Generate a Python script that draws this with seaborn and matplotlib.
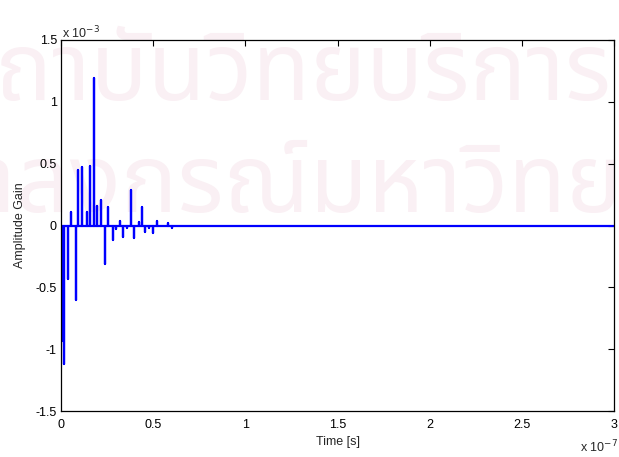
import numpy as np
import pandas as pd
import matplotlib
matplotlib.use("Agg")
import matplotlib.pyplot as plt
import seaborn as sns

# Impulse response taps: arrival time (x 1e-7 s) and amplitude (x 1e-3)
tap_time = [0.004, 0.015, 0.036, 0.053, 0.079, 0.094, 0.116, 0.139, 0.157, 0.179,
            0.195, 0.217, 0.239, 0.257, 0.281, 0.298, 0.319, 0.339, 0.358, 0.378,
            0.398, 0.422, 0.438, 0.457, 0.479, 0.501, 0.519, 0.581, 0.602, 0.682]
tap_gain = [-0.93, -1.12, -0.43, 0.11, -0.60, 0.45, 0.47, 0.11, 0.48, 1.19,
            0.16, 0.21, -0.31, 0.15, -0.12, -0.03, 0.04, -0.09, -0.02, 0.29,
            -0.10, 0.03, 0.15, -0.05, -0.02, -0.06, 0.04, 0.02, -0.02, -0.005]
t_end = 3.0
x_ticks = [0, 0.5, 1, 1.5, 2, 2.5, 3]
x_labels = ["0", "0.5", "1", "1.5", "2", "2.5", "3"]
y_ticks = [-1.5, -1, -0.5, 0, 0.5, 1, 1.5]
y_labels = ["-1.5", "-1", "-0.5", "0", "0.5", "1", "1.5"]
stamp_lines = ["สถาบันวิทยบริการ", "จุฬาลงกรณ์มหาวิทยาลัย"]

# Trace: zero baseline with a vertical excursion at each tap
xs, ys = [0.0], [0.0]
for t, g in zip(tap_time, tap_gain):
    xs += [t, t, t]
    ys += [0.0, g, 0.0]
xs.append(t_end)
ys.append(0.0)
df = pd.DataFrame({"Time": np.array(xs) * 1e-7, "Gain": np.array(ys) * 1e-3})

sns.set_theme(style="white")
plt.rcParams["font.family"] = ["Liberation Sans", "DejaVu Sans"]

W, H = 619, 457
fig = plt.figure(figsize=(W / 100, H / 100), dpi=100)
ax = fig.add_axes([61 / W, 46 / H, 553 / W, 371 / H])
ax.set_facecolor("none")

# Faint background stamp, sized so the visible run of the first line spans the page
stamp_fam = ["Noto Sans Thai", "Noto Sans", "DejaVu Sans"]
renderer = fig.canvas.get_renderer()


def text_width(s, size):
    t = fig.text(0, 0, s, fontsize=size, family=stamp_fam)
    w = t.get_window_extent(renderer).width
    t.remove()
    return w


base = 60.0
scale = 615.0 / text_width(stamp_lines[0][1:], base)
size = base * scale
lead1 = text_width(stamp_lines[0][:1], size)
lead2 = text_width(stamp_lines[1][:4], size)
stamp_kw = dict(color="#faf0f4", zorder=-1, family=stamp_fam, fontsize=size,
                ha="left", va="baseline")
fig.text((-4 - lead1) / W, 1 - 100 / H, stamp_lines[0], **stamp_kw)
fig.text((16 - lead2) / W, 1 - 212 / H, stamp_lines[1], **stamp_kw)

sns.lineplot(data=df, x="Time", y="Gain", sort=False, estimator=None,
             color="#0000ff", linewidth=1.6, ax=ax)

ax.set_xlim(0, 3e-7)
ax.set_ylim(-1.5e-3, 1.5e-3)
ax.set_xticks(np.array(x_ticks) * 1e-7)
ax.set_xticklabels(x_labels)
ax.set_yticks(np.array(y_ticks) * 1e-3)
ax.set_yticklabels(y_labels)
ax.tick_params(direction="in", length=4, width=0.8, colors="black", labelsize=9,
               top=True, right=True)
ax.tick_params(axis="x", pad=6)
ax.tick_params(axis="y", pad=3)
for s in ax.spines.values():
    s.set_visible(True)
    s.set_color("black")
    s.set_linewidth(0.9)
ax.set_xlabel("Time [s]", fontsize=9, labelpad=3)
ax.set_ylabel("Amplitude Gain", fontsize=9, labelpad=7)

# Exponent annotations for the scaled axes
fig.text(62 / W, 1 - 41 / H, "x 10$^{-3}$", fontsize=9, ha="left", va="bottom")
fig.text(580 / W, 1 - 455 / H, "x 10$^{-7}$", fontsize=9, ha="left", va="bottom")

fig.savefig("out.png", dpi=100)
